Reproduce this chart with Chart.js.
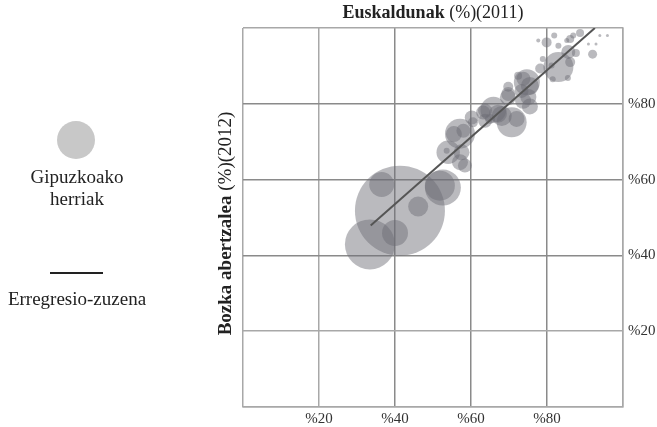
<!DOCTYPE html>
<html>
<head>
<meta charset="utf-8">
<script src="https://cdn.jsdelivr.net/npm/chart.js@4/dist/chart.umd.min.js"></script>
<style>
  html, body { margin: 0; padding: 0; background: #fff; }
</style>
</head>
<body>
<canvas id="chart" width="657" height="427"></canvas>
<script>
// euskaldunak (%) 2011
let euskaldunak = [41.3, 33.4, 36.5, 40.0, 46.1, 52.6, 51.8, 54.0, 53.6, 57.1, 58.4, 57.1, 55.5, 58.0,
  60.2, 60.5, 63.7, 65.9, 68.1, 70.7, 69.7, 73.7, 74.7, 73.8, 75.5, 69.8, 72.4, 83.0, 86.1, 81.2,
  87.6, 92.0, 79.9, 77.7, 81.9, 83.0, 86.1, 85.2, 88.7, 86.9, 90.9, 92.9, 93.9, 95.9, 78.9, 81.5,
  85.5, 63.2, 67.1, 75.5, 57.5, 65.0, 73.3, 72.0, 85.6, 78.2, 69.8, 75.1, 63.7];
// bozka abertzalea (%) 2012
let abertzaleak = [51.8, 42.9, 58.7, 45.9, 52.9, 57.9, 58.4, 67.2, 67.6, 64.6, 63.7, 72.1, 72.0, 72.9,
  76.4, 75.1, 75.5, 78.4, 76.8, 75.1, 81.7, 80.8, 85.7, 86.6, 84.7, 82.6, 87.4, 89.7, 91.0, 90.1,
  93.4, 93.1, 96.2, 96.7, 98.0, 95.3, 97.1, 96.7, 98.7, 98.0, 95.8, 95.8, 98.0, 98.0, 91.8, 86.5,
  86.8, 77.7, 77.4, 79.3, 67.2, 76.0, 83.4, 76.0, 93.7, 89.3, 84.5, 81.8, 78.2];
// herriaren tamaina (burbuilaren erradioa)
let tamaina = [45, 25, 12.5, 13, 10, 18, 15, 11.7, 3, 8, 7, 15, 8, 7,
  7, 5, 7, 13, 10, 15, 8, 8, 13, 7, 9, 7, 4, 15, 5, 3,
  4, 4.5, 5, 2, 3, 3, 4, 2.5, 4, 3, 1.5, 1.5, 1.5, 1.5, 3, 3,
  3, 7, 9, 8, 8, 5, 7, 8, 7, 5, 5, 8, 7];

let zuzenaX = [33.6, 92.6];
let zuzenaY = [47.9, 100];

let xTicks = [20, 40, 60, 80];
let yTicks = [20, 40, 60, 80];

const serif = "'Liberation Serif', 'DejaVu Serif', serif";

function drawParts(ctx, parts, cx, cy) {
  let total = 0;
  parts.forEach(p => { ctx.font = p.font; total += ctx.measureText(p.text).width; });
  let x = cx - total / 2;
  ctx.textAlign = "left";
  ctx.textBaseline = "middle";
  parts.forEach(p => {
    ctx.font = p.font;
    ctx.fillText(p.text, x, cy);
    x += ctx.measureText(p.text).width;
  });
}

const extras = {
  id: "extras",
  afterDraw(chart) {
    let ctx = chart.ctx;
    let a = chart.chartArea;
    ctx.save();
    ctx.fillStyle = "#222";
    drawParts(ctx, [
      { text: "Euskaldunak", font: "bold 18px " + serif },
      { text: " (%)(2011)", font: "18px " + serif }
    ], (a.left + a.right) / 2, 13);

    ctx.save();
    ctx.translate(226, (a.top + a.bottom) / 2 + 6);
    ctx.rotate(-Math.PI / 2);
    drawParts(ctx, [
      { text: "Bozka abertzalea", font: "bold 19px " + serif },
      { text: " (%)(2012)", font: "19px " + serif }
    ], 0, 0);
    ctx.restore();

    // legend
    ctx.fillStyle = "#c8c8c8";
    ctx.beginPath();
    ctx.arc(76, 140, 19, 0, Math.PI * 2);
    ctx.fill();
    ctx.fillStyle = "#222";
    ctx.font = "19px " + serif;
    ctx.textAlign = "center";
    ctx.textBaseline = "middle";
    ctx.fillText("Gipuzkoako", 77, 178);
    ctx.fillText("herriak", 77, 200);
    ctx.strokeStyle = "#222";
    ctx.lineWidth = 2;
    ctx.beginPath();
    ctx.moveTo(50, 273);
    ctx.lineTo(103, 273);
    ctx.stroke();
    ctx.fillText("Erregresio-zuzena", 77, 300);
    ctx.restore();
  }
};

function gridColor(ctx) {
  let v = ctx.tick ? ctx.tick.value : 0;
  if (v === 40 || v === 60 || v === 80) return "#8a8a8a";
  return "#a8a8a8";
}

let herriak = euskaldunak.map((x, i) => ({ x: x, y: abertzaleak[i], r: tamaina[i] }));
let zuzena = zuzenaX.map((x, i) => ({ x: x, y: zuzenaY[i] }));

new Chart(document.getElementById("chart"), {
  type: "bubble",
  data: {
    datasets: [{
      type: "bubble",
      data: herriak,
      backgroundColor: "rgba(108,108,116,0.47)",
      borderWidth: 0,
      order: 2
    }, {
      type: "line",
      data: zuzena,
      borderColor: "#555",
      borderWidth: 2,
      pointRadius: 0,
      fill: false,
      order: 1
    }]
  },
  options: {
    responsive: false,
    animation: false,
    layout: { autoPadding: false, padding: { left: 243, top: 28, right: 0, bottom: 0 } },
    plugins: { legend: { display: false }, tooltip: { enabled: false } },
    scales: {
      x: {
        type: "linear",
        min: 0, max: 100,
        afterBuildTicks: s => { s.ticks = [0].concat(xTicks, [100]).map(v => ({ value: v })); },
        afterFit: s => { s.height = 20; },
        grid: { color: gridColor, lineWidth: 1.5, drawTicks: false },
        border: { color: "#a8a8a8", width: 1.5 },
        ticks: {
          padding: 3,
          color: "#333",
          font: { family: serif, size: 15 },
          callback: v => xTicks.includes(v) ? "%" + v : ""
        }
      },
      y: {
        type: "linear",
        position: "right",
        min: 0, max: 100,
        afterBuildTicks: s => { s.ticks = [0].concat(yTicks, [100]).map(v => ({ value: v })); },
        afterFit: s => { s.width = 34; },
        grid: { color: gridColor, lineWidth: 1.5, drawTicks: false },
        border: { color: "#a8a8a8", width: 1.5 },
        ticks: {
          padding: 5,
          color: "#333",
          font: { family: serif, size: 15 },
          callback: v => yTicks.includes(v) ? "%" + v : ""
        }
      }
    }
  },
  plugins: [extras]
});
</script>
</body>
</html>
